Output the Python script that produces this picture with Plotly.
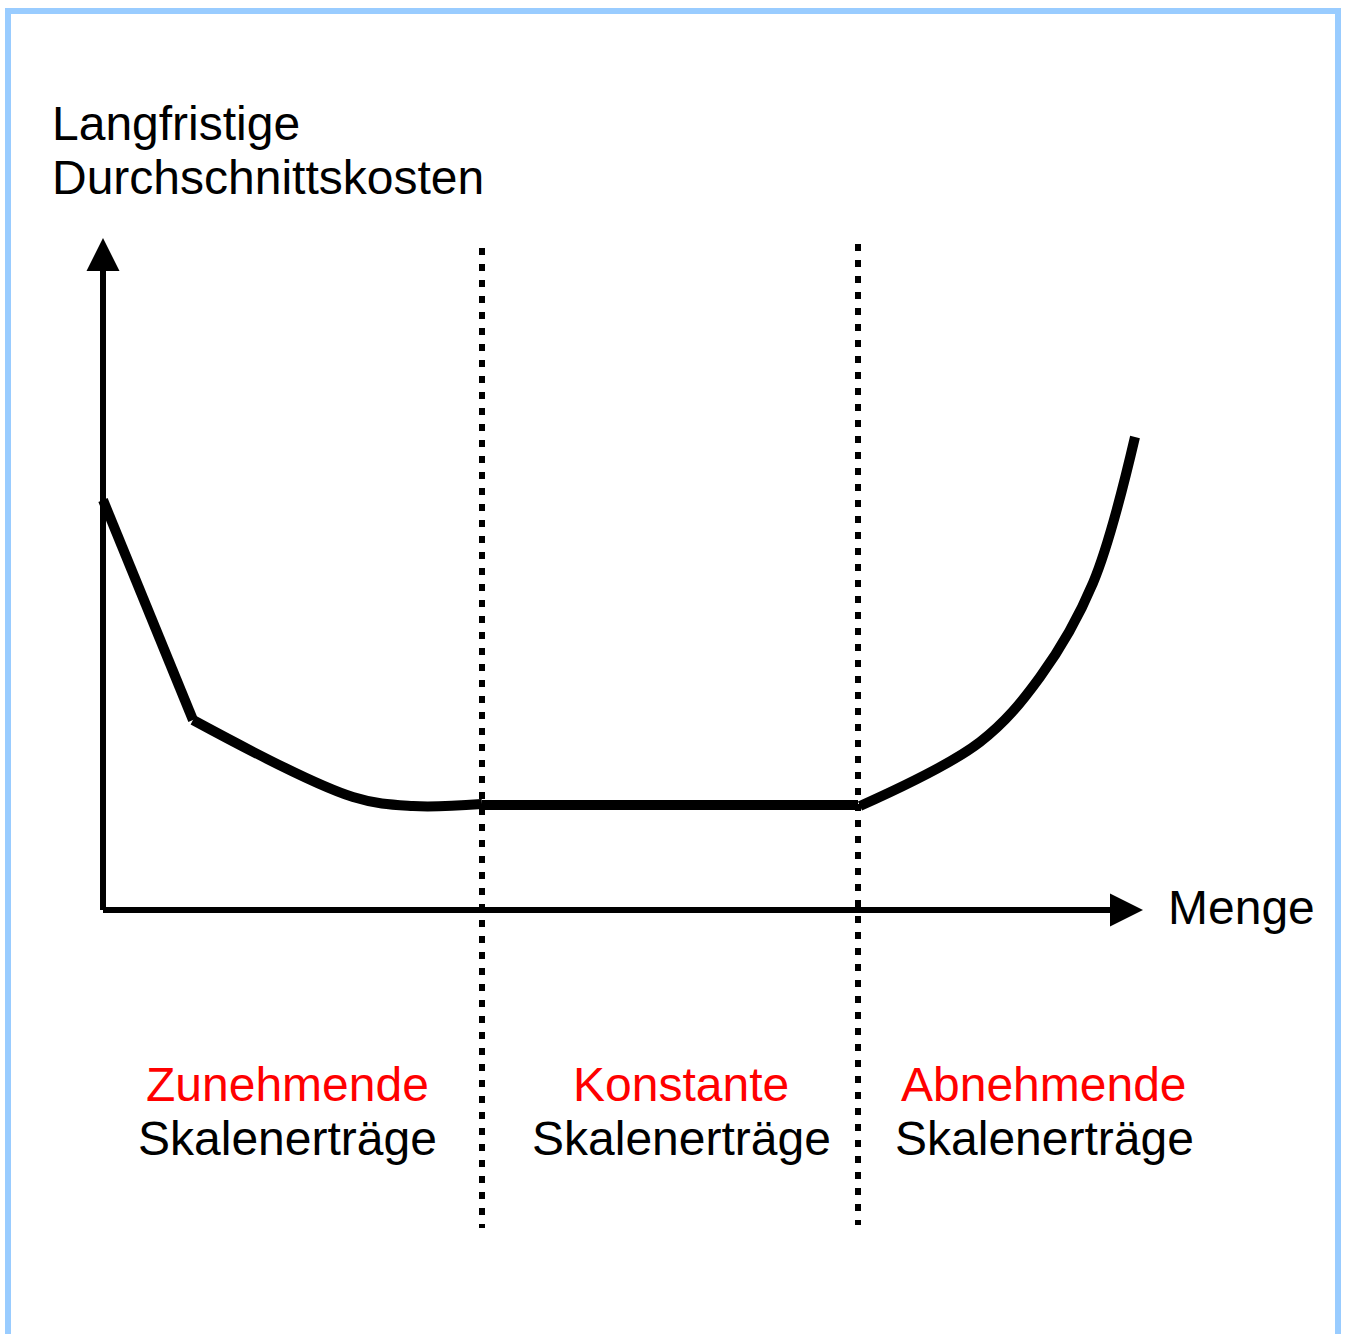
import plotly.graph_objects as go

# Long-run average cost curve (quantity, cost) in drawing units; origin at the axes' corner
qty_steep = [0, 90]
cost_steep = [410, 190]

qty_falling = [90, 250, 310, 379]
cost_falling = [190, 113, 104, 106]

qty_constant = [379, 755]
cost_constant = [105, 105]

qty_rising = [757, 877, 937, 990, 1032]
cost_rising = [104, 168, 233, 327, 473]

# Borders between the three returns-to-scale regimes
regime_bounds = [379, 755]
bound_top = [662, 666]
bound_bottom = [-318, -315]

# Axis extents
y_axis_top = 672
x_axis_right = 1040
arrow_len = 33
arrow_half = 16.5

# Labels
y_title_lines = ["Langfristige", "Durchschnittskosten"]
x_title = "Menge"
regime_names = ["Zunehmende", "Konstante", "Abnehmende"]
regime_suffix = "Skalenerträge"
regime_centers = [184, 578, 941]

FONT = "Liberation Sans, Arial, sans-serif"
FS = 48
RED = "#FF0000"
FRAME = "#99CCFF"

fig = go.Figure()

# Axes lines
fig.add_trace(go.Scatter(
    x=[0, 0], y=[0, y_axis_top - arrow_len + 1], mode="lines",
    line=dict(color="black", width=6), hoverinfo="skip", showlegend=False))
fig.add_trace(go.Scatter(
    x=[0, x_axis_right - arrow_len + 1], y=[0, 0], mode="lines",
    line=dict(color="black", width=6), hoverinfo="skip", showlegend=False))

# Arrowheads built from the axis ends
fig.add_trace(go.Scatter(
    x=[-arrow_half, arrow_half, 0, -arrow_half],
    y=[y_axis_top - arrow_len, y_axis_top - arrow_len, y_axis_top, y_axis_top - arrow_len],
    mode="lines", fill="toself", fillcolor="black",
    line=dict(color="black", width=0), hoverinfo="skip", showlegend=False))
fig.add_trace(go.Scatter(
    x=[x_axis_right - arrow_len, x_axis_right - arrow_len, x_axis_right, x_axis_right - arrow_len],
    y=[-arrow_half, arrow_half, 0, -arrow_half],
    mode="lines", fill="toself", fillcolor="black",
    line=dict(color="black", width=0), hoverinfo="skip", showlegend=False))

# Cost curve: straight steep drop, then smooth pieces
curve_parts = [
    (qty_steep, cost_steep, "linear"),
    (qty_falling, cost_falling, "spline"),
    (qty_constant, cost_constant, "linear"),
    (qty_rising, cost_rising, "spline"),
]
for xs, ys, shape in curve_parts:
    fig.add_trace(go.Scatter(
        x=xs, y=ys, mode="lines",
        line=dict(color="black", width=10, shape=shape, smoothing=1.0),
        hoverinfo="skip", showlegend=False))

# Dotted regime borders
for xb, yt, yb in zip(regime_bounds, bound_top, bound_bottom):
    fig.add_trace(go.Scatter(
        x=[xb, xb], y=[yt, yb], mode="lines",
        line=dict(color="black", width=6, dash="7px,9px"),
        hoverinfo="skip", showlegend=False))

annotations = []
for i, line in enumerate(y_title_lines):
    annotations.append(dict(
        x=-53, y=787 - 54 * i, text=line, showarrow=False,
        xanchor="left", yanchor="middle",
        font=dict(family=FONT, size=FS, color="black")))
annotations.append(dict(
    x=1063, y=3, text=x_title, showarrow=False,
    xanchor="left", yanchor="middle",
    font=dict(family=FONT, size=FS, color="black")))
for name, xc in zip(regime_names, regime_centers):
    annotations.append(dict(
        x=xc, y=-174, text=name, showarrow=False,
        xanchor="center", yanchor="middle",
        font=dict(family=FONT, size=FS, color=RED)))
    annotations.append(dict(
        x=xc, y=-228, text=regime_suffix, showarrow=False,
        xanchor="center", yanchor="middle",
        font=dict(family=FONT, size=FS, color="black")))

# Light blue frame, open at the bottom
frame_shape = dict(
    type="path", xref="x", yref="y",
    path="M -95,-440 L -95,899 L 1235,899 L 1235,-440",
    line=dict(color=FRAME, width=6))

fig.update_layout(
    width=1346, height=1334,
    margin=dict(l=0, r=0, t=0, b=0),
    paper_bgcolor="white", plot_bgcolor="white",
    xaxis=dict(range=[-103, 1243], visible=False, fixedrange=True),
    yaxis=dict(range=[-424, 910], visible=False, fixedrange=True),
    annotations=annotations,
    shapes=[frame_shape],
    showlegend=False,
)

fig.write_html("out.html", config={"displayModeBar": False})
